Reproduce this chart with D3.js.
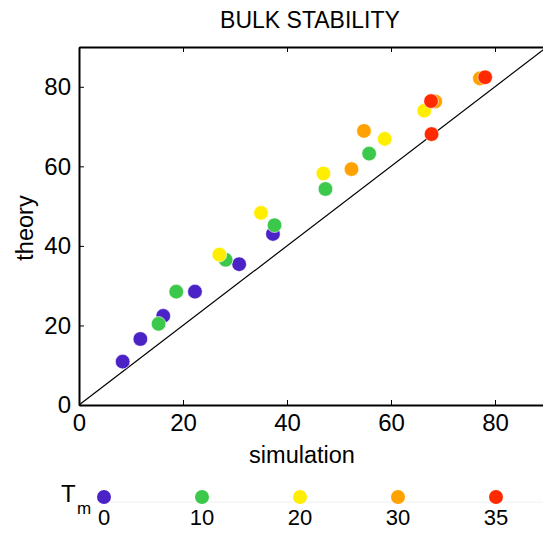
<!DOCTYPE html>
<html><head><meta charset="utf-8">
<script src="https://cdn.jsdelivr.net/npm/d3@7/dist/d3.min.js"></script>
<style>body{margin:0;background:#fff}svg{display:block}text{font-family:"Liberation Sans",Arial,Helvetica,sans-serif;fill:#000}</style>
</head><body><svg id="c" width="543" height="534"></svg>
<script>
const title = "BULK STABILITY";
const xLabel = "simulation";
const yLabel = "theory";
const xTicks = [0, 20, 40, 60, 80];
const yTicks = [0, 20, 40, 60, 80];
const tmValues = [0, 10, 20, 30, 35];
const tmColors = ["#4a22c6", "#3cc84a", "#ffee00", "#ffa200", "#ff2a00"];
// simulation / theory pairs per Tm series
const sim0 = [8.4, 11.8, 16.2, 22.3, 30.8, 37.3];
const th0  = [10.9, 16.6, 22.4, 28.5, 35.4, 43.0];
const sim10 = [15.3, 18.7, 28.2, 37.6, 47.4, 55.8];
const th10  = [20.4, 28.5, 36.5, 45.2, 54.3, 63.2];
const sim20 = [27.0, 35.0, 47.0, 58.8, 66.4];
const th20  = [37.8, 48.3, 58.2, 66.9, 74.0];
const sim30 = [52.4, 54.8, 68.5, 77.1];
const th30  = [59.3, 68.9, 76.3, 82.1];
const sim35 = [67.7, 67.8, 78.1];
const th35  = [76.4, 68.1, 82.4];
const refLine = [[0, 0], [90, 90]];

const series = [[sim0, th0], [sim10, th10], [sim20, th20], [sim30, th30], [sim35, th35]];

const svg = d3.select("#c");
const x = d3.scaleLinear().domain([0, 90]).range([79, 547]);
const y = d3.scaleLinear().domain([0, 90]).range([405, 47]);

// reference line
svg.append("path").datum(refLine)
  .attr("d", d3.line().x(d => x(d[0])).y(d => y(d[1])))
  .attr("stroke", "#000").attr("stroke-width", 1.2).attr("fill", "none");

// points
series.forEach((s, i) => {
  const pts = s[0].map((v, j) => [v, s[1][j]]);
  svg.append("g").selectAll("circle").data(pts).join("circle")
    .attr("cx", d => x(d[0])).attr("cy", d => y(d[1])).attr("r", 7.3)
    .attr("fill", tmColors[i]).attr("stroke", "#fff").attr("stroke-width", 0.6);
});

// axes
const fs = "24px";
const xb = svg.append("g").attr("transform", "translate(0,405)")
  .call(d3.axisBottom(x).tickValues(xTicks).tickSizeInner(-5).tickSizeOuter(0).tickPadding(9));
const xt = svg.append("g").attr("transform", "translate(0,47)")
  .call(d3.axisTop(x).tickValues(xTicks).tickSizeInner(-5).tickSizeOuter(0).tickFormat(""));
const yl = svg.append("g").attr("transform", "translate(79,0)")
  .call(d3.axisLeft(y).tickValues(yTicks).tickSizeInner(-5).tickSizeOuter(0).tickPadding(8));
[xb, xt, yl].forEach(g => {
  g.select(".domain").attr("stroke", "#000").attr("stroke-width", 2);
  g.selectAll(".tick line").attr("stroke", "#000").attr("stroke-width", 1);
  g.selectAll("text").style("font-size", fs).style("font-family", '"Liberation Sans",Arial,sans-serif').attr("fill", "#000");
});
xb.selectAll(".tick text").attr("dy", "0.7em");

svg.append("text").attr("x", 310).attr("y", 28).attr("text-anchor", "middle")
  .style("font-size", "23px").text(title);
svg.append("text").attr("x", 302).attr("y", 463).attr("text-anchor", "middle")
  .style("font-size", "23.5px").text(xLabel);
svg.append("text").attr("transform", "translate(33,228) rotate(-90)").attr("text-anchor", "middle")
  .style("font-size", "23.5px").text(yLabel);

// legend
const lx = d3.scalePoint().domain(tmValues).range([104, 496]);
svg.append("line").attr("x1", 97).attr("x2", 543).attr("y1", 502).attr("y2", 502)
  .attr("stroke", "#f0f0f0").attr("stroke-width", 1);
svg.append("g").selectAll("circle").data(tmValues).join("circle")
  .attr("cx", d => lx(d)).attr("cy", 497).attr("r", 7)
  .attr("fill", (d, i) => tmColors[i]);
svg.append("g").selectAll("text").data(tmValues).join("text")
  .attr("x", d => lx(d)).attr("y", 525).attr("text-anchor", "middle")
  .style("font-size", "22px").text(d => d);
svg.append("text").attr("x", 61).attr("y", 502).style("font-size", "24px").text("T");
svg.append("text").attr("x", 77).attr("y", 514).style("font-size", "17px").text("m");
</script></body></html>
